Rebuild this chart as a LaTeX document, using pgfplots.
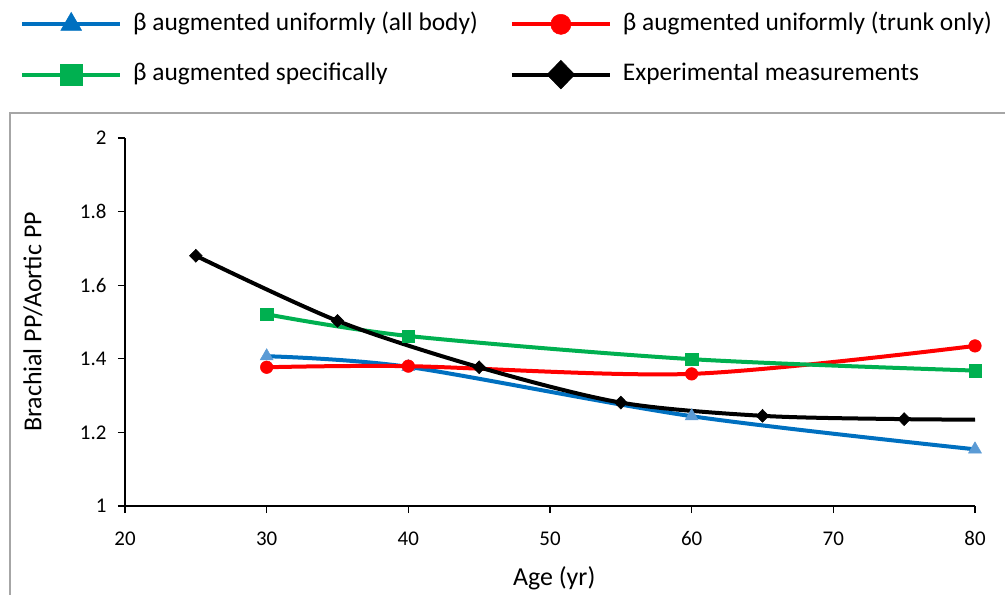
\documentclass[border=0pt]{standalone}
\usepackage{fontspec}
\setmainfont{Carlito}
\usepackage{pgfplots}
\pgfplotsset{compat=1.18}
\definecolor{cblue}{HTML}{0070C0}
\definecolor{ctri}{HTML}{5B9BD5}
\definecolor{cred}{HTML}{FF0000}
\definecolor{cgreen}{HTML}{00B050}
\definecolor{cborder}{HTML}{A6A6A6}
\begin{document}
\begin{tikzpicture}
\path[use as bounding box] (0bp,0bp) rectangle (1005bp,595bp);
\draw[cborder, line width=1.2bp] (10bp,-5bp) -- (10bp,482bp) -- (1010bp,482bp);
\begin{axis}[
  at={(125bp,89bp)}, anchor=south west,
  scale only axis, width=850bp, height=368bp,
  xmin=20, xmax=80, ymin=1, ymax=2,
  xtick={20,30,40,50,60,70,80},
  ytick={1,1.2,1.4,1.6,1.8,2},
  axis lines=left,
  axis line style={-, line width=2bp, black},
  tick style={line width=1.2bp, black},
  tick align=outside, major tick length=7bp,
  /pgf/number format/assume math mode=true,
  ticklabel style={font=\fontsize{21}{25}\selectfont},
  xticklabel style={yshift=-15bp},
  yticklabel style={xshift=-8bp},
  xlabel={Age (yr)}, ylabel={Brachial PP/Aortic PP},
  label style={font=\fontsize{26}{30}\selectfont},
  xlabel style={at={(axis description cs:0.505,-0.1957)}, anchor=center},
  ylabel style={at={(axis description cs:-0.097,0.5)}, anchor=south, inner sep=0pt},
  clip=false,
  legend columns=2,
  legend cell align=left,
  legend style={draw=none, fill=none, inner sep=0pt, at={(-0.1235,1.342)}, anchor=north west,
    font=\fontsize{25.5}{30}\selectfont,
    nodes={inner sep=0pt, text height=18bp, text depth=6bp},
    /tikz/every odd column/.append style={column sep=11bp},
    /tikz/every even column/.append style={column sep=32bp},
    row sep=24bp},
  legend image code/.code={\draw[#1, mark indices={2}] plot coordinates {(0bp,0bp) (49bp,0bp) (98bp,0bp)};},
]
\addplot[cblue, line width=4bp, smooth, mark=triangle*, mark size=7.5bp,
  mark options={fill=ctri, draw=ctri, line width=0.5bp},
  legend image post style={every mark/.append style={scale=1.6, fill=cblue, draw=cblue}}]
  coordinates {(30,1.407) (40,1.378) (60,1.244) (80,1.154)};
\addlegendentry{β augmented uniformly (all body)}
\addplot[cred, line width=4bp, smooth, mark=*, mark size=6.3bp,
  mark options={fill=cred, draw=cred, line width=0.5bp},
  legend image post style={every mark/.append style={scale=1.6}}]
  coordinates {(30,1.377) (40,1.380) (60,1.359) (80,1.435)};
\addlegendentry{β augmented uniformly (trunk only)}
\addplot[cgreen, line width=4bp, smooth, mark=square*, mark size=6.2bp,
  mark options={fill=cgreen, draw=cgreen, line width=0.5bp},
  legend image post style={every mark/.append style={scale=1.7}}]
  coordinates {(30,1.521) (40,1.462) (60,1.399) (80,1.368)};
\addlegendentry{β augmented specifically}
\addplot[black, line width=4bp, smooth, mark=diamond*, mark size=6.5bp, mark indices={1,2,3,4,5,6},
  mark options={fill=black, draw=black, line width=0.5bp, xscale=1.3},
  legend image post style={every mark/.append style={scale=2.2}}]
  coordinates {(25,1.680) (35,1.503) (45,1.377) (55,1.281) (65,1.245) (75,1.236) (80,1.235)};
\addlegendentry{Experimental measurements}
\end{axis}
\end{tikzpicture}
\end{document}
